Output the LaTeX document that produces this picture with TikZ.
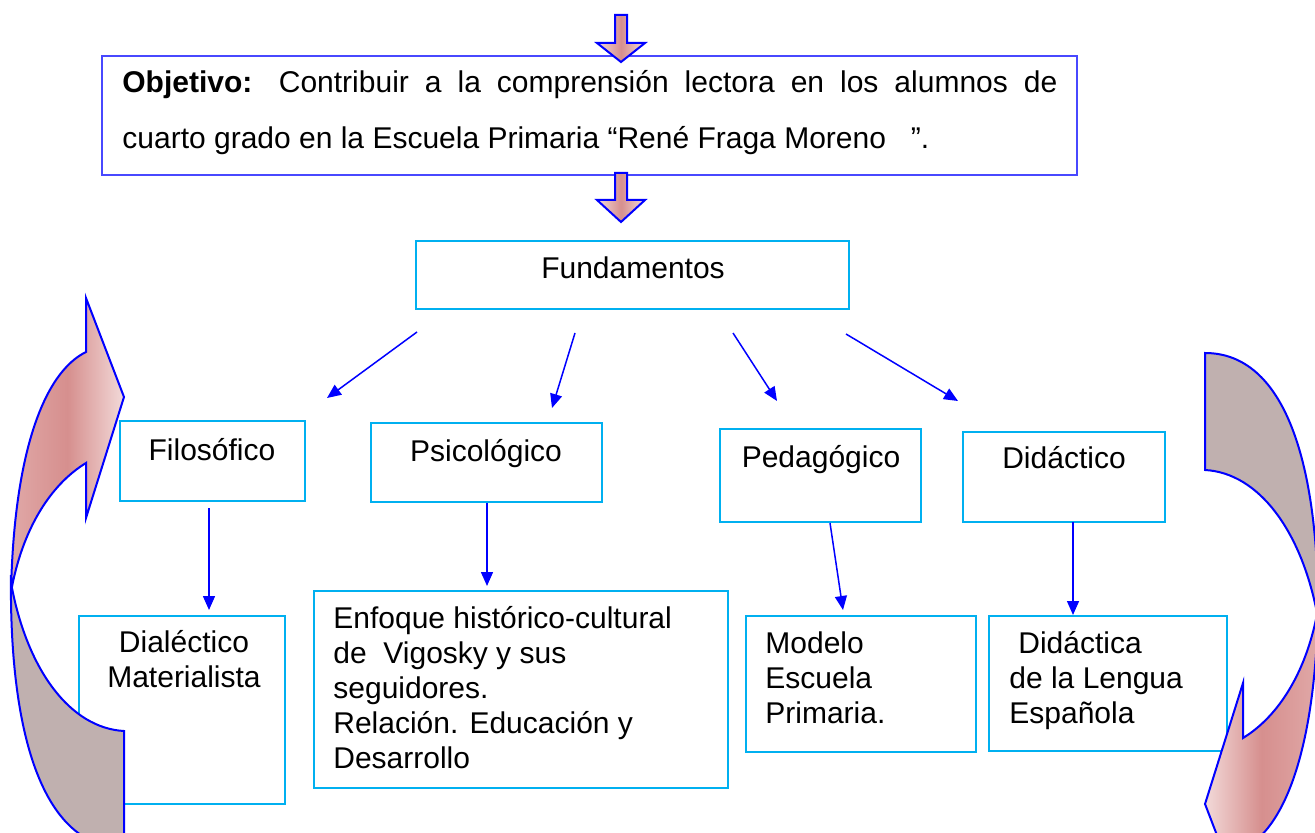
\documentclass[tikz,border=0pt]{standalone}
\usepackage{fontspec}
\setmainfont{Liberation Sans}
\usetikzlibrary{arrows.meta,fit}
\definecolor{objblue}{RGB}{72,72,255}
\definecolor{cyanb}{RGB}{0,176,240}
\definecolor{arrblue}{RGB}{0,0,255}
\definecolor{pinkd}{RGB}{214,143,142}
\definecolor{pinkl}{RGB}{242,218,217}
\definecolor{pinkm}{RGB}{224,168,167}
\definecolor{grayb}{RGB}{192,176,175}
\begin{document}
\begin{tikzpicture}[x=0.5pt,y=-0.5pt,
  cbox/.style={draw=cyanb,line width=1pt,inner sep=0pt},
  obox/.style={draw=objblue,line width=1pt,inner sep=0pt},
  txt/.style={inner sep=0pt,font=\fontsize{15pt}{17.5pt}\selectfont},
  conn/.style={draw=arrblue,line width=0.75pt,-{Triangle[length=7pt,width=6pt]}},
  blockarr/.style={draw=arrblue,line width=1pt,line join=miter,left color=pinkl,right color=pinkl,middle color=pinkd},
  curvarr/.style={draw=arrblue,line width=1pt,line join=miter}
]
\useasboundingbox (0,0) rectangle (1315,833);
\clip (0,0) rectangle (1315,833);

% boxes
\node[obox,fit={(102,56) (1077,175)}] (obj) {};
\node[cbox,fit={(416,241) (849,309)}] (fund) {};
\node[cbox,fit={(120,421) (305,501)}] (fil) {};
\node[cbox,fit={(371,423) (602,502)}] (psi) {};
\node[cbox,fit={(720,429) (921,522)}] (ped) {};
\node[cbox,fit={(963,432) (1165,522)}] (did) {};
\node[cbox,fit={(79,616) (285,804)}] (dia) {};
\node[cbox,fit={(314,591) (728,788)}] (enf) {};
\node[cbox,fit={(746,616) (976,752)}] (mod) {};
\node[cbox,fit={(989,616) (1227,751)}] (dle) {};

% texts
\node[txt,anchor=base west] (objt1) at (122,93) {\makebox[467.5pt][s]{\textbf{Objetivo:} Contribuir a la comprensión lectora en los alumnos de}};
\node[txt,anchor=base west] (objt2) at (122,149) {cuarto grado en la Escuela Primaria “René Fraga Moreno\ \ \ ”.};
\node[txt,anchor=base] (fundt) at (633,279) {Fundamentos};
\node[txt,anchor=base] (filt) at (212,460) {Filosófico};
\node[txt,anchor=base] (psit) at (486,461) {Psicológico};
\node[txt,anchor=base] (pedt) at (821,467) {Pedagógico};
\node[txt,anchor=base] (didt) at (1064,468) {Didáctico};
\node[txt,anchor=base] (diat) at (184,652) {\parbox[t]{100pt}{\centering Dialéctico\\Materialista}};
\node[txt,anchor=base west] (enft) at (333,628) {\parbox[t]{190pt}{\raggedright Enfoque histórico-cultural\\de\ \ Vigosky y sus\\seguidores.\\Relación. Educación y\\Desarrollo}};
\node[txt,anchor=base west] (modt) at (765,653) {\parbox[t]{100pt}{\raggedright Modelo\\Escuela\\Primaria.}};
\node[txt,anchor=base west] (dlet) at (1009,653) {\parbox[t]{110pt}{\raggedright \hspace*{4.5pt}Didáctica\\de la Lengua\\Española}};

% connector end points
\coordinate (f1) at (417,332); \coordinate (t1) at (327,398);
\coordinate (f2) at (575,333); \coordinate (t2) at (552,408);
\coordinate (f3) at (733,333); \coordinate (t3) at (777,401);
\coordinate (f4) at (846,334); \coordinate (t4) at (958,401);
\coordinate (v1s) at (209,508); \coordinate (v1e) at (209,610);
\coordinate (v2e) at (487,586);
\coordinate (v3s) at (830,523); \coordinate (v3e) at (843,610);
\coordinate (v4s) at (1073,522); \coordinate (v4e) at (1073,615);

\draw[conn] (f1) -- (t1);
\draw[conn] (f2) -- (t2);
\draw[conn] (f3) -- (t3);
\draw[conn] (f4) -- (t4);
\draw[conn] (v1s) -- (v1e);
\draw[conn] (psi.south -| v2e) -- (v2e);
\draw[conn] (v3s) -- (v3e);
\draw[conn] (v4s) -- (v4e);

% block arrows
\draw[blockarr] (615,15) -- (627,15) -- (627,43) -- (645,43) -- (621,62) -- (597,43) -- (615,43) -- cycle;
\draw[blockarr] (615,173) -- (627,173) -- (627,200) -- (645,200) -- (621,222) -- (597,200) -- (615,200) -- cycle;

% left curved arrow
\draw[curvarr,fill=grayb] (11,575) .. controls (9,740) and (45,848) .. (124,848) -- (124,731)
   .. controls (70,728) and (28,670) .. (12,588) -- cycle;
\draw[curvarr,left color=pinkm,right color=pinkl,middle color=pinkd] (86,463) -- (86,518) -- (124,397) -- (86,298) -- (86,352)
   .. controls (45,372) and (14,450) .. (11,592)
   .. controls (22,530) and (50,485) .. (86,463) -- cycle;

% right curved arrow
\draw[curvarr,fill=grayb] (1318,626) .. controls (1320,461) and (1284,353) .. (1205,353) -- (1205,470)
   .. controls (1259,473) and (1301,531) .. (1317,613) -- cycle;
\draw[curvarr,left color=pinkl,right color=pinkm,middle color=pinkd] (1243,738) -- (1243,683) -- (1205,804) -- (1243,903) -- (1243,849)
   .. controls (1284,829) and (1315,751) .. (1318,609)
   .. controls (1307,671) and (1279,716) .. (1243,738) -- cycle;
\end{tikzpicture}
\end{document}
